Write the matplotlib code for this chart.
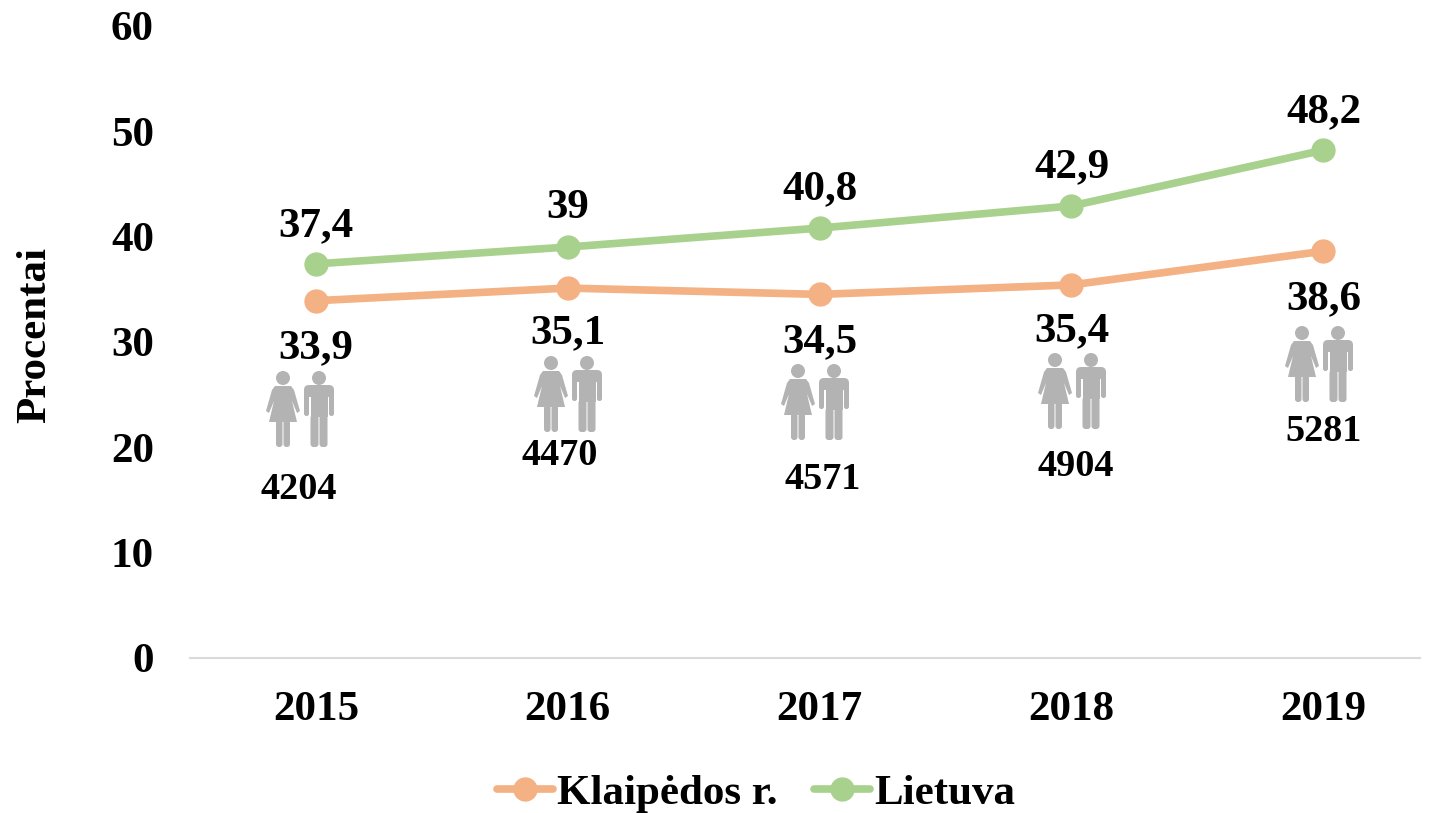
import matplotlib
matplotlib.use("Agg")
import matplotlib.pyplot as plt
from matplotlib.patches import Circle, Polygon, FancyBboxPatch

years = ["2015", "2016", "2017", "2018", "2019"]
klaipeda = [33.9, 35.1, 34.5, 35.4, 38.6]
lietuva = [37.4, 39, 40.8, 42.9, 48.2]
klaipeda_labels = ["33,9", "35,1", "34,5", "35,4", "38,6"]
lietuva_labels = ["37,4", "39", "40,8", "42,9", "48,2"]
counts = ["4204", "4470", "4571", "4904", "5281"]
count_pos_px = [(299, 489), (560, 455), (823, 479), (1076, 466), (1324, 431)]
icon_pos_px = [(301, 371), (569, 356), (816, 364), (1073, 353), (1320, 326)]
kl_px = [(316, 348), (568, 333), (820, 342), (1072, 331), (1324, 299)]
lt_px = [(316, 226), (568, 208), (820, 189), (1072, 167), (1324, 112)]

W, H = 1435, 813
FS = 31
plt.rcParams['font.family'] = ['Liberation Serif', 'DejaVu Serif']
fig = plt.figure(figsize=(W/100, H/100), dpi=100)
x0 = 190
ytop, y0 = 26, 657.5
ax = fig.add_axes([x0/W, 1-y0/H, (W-x0)/W, (y0-ytop)/H])
ax.set_ylim(0, 60)
xs = list(range(5))
step = 251.8
left = (316-x0)/step
ax.set_xlim(-left, (W-x0)/step-left)
cK, cL = "#F4B183", "#A9D18E"
ax.plot(xs, klaipeda, color=cK, lw=5.5, marker='o', ms=16.5, label="Klaipėdos r.", solid_capstyle='round')
ax.plot(xs, lietuva, color=cL, lw=5.5, marker='o', ms=16.5, label="Lietuva", solid_capstyle='round')
for s in ['top', 'right', 'left']:
    ax.spines[s].set_visible(False)
ax.spines['bottom'].set_color('#D9D9D9')
ax.spines['bottom'].set_linewidth(1.5)
ax.spines['bottom'].set_bounds(-left, (1420-x0)/step-left)
ax.set_xticks(xs, years)
ax.set_yticks(range(0, 61, 10))
ax.tick_params(length=0)
for t in ax.get_xticklabels() + ax.get_yticklabels():
    t.set_fontsize(FS); t.set_fontweight('bold')
ax.tick_params(axis='x', pad=24)
ax.tick_params(axis='y', pad=26)

def px(x, y):
    return x/W, 1-y/H
fig.text(*px(35, 335), "Procentai", rotation=90, ha='center', va='center', fontsize=FS, fontweight='bold')
for (a, b), s in zip(lt_px, lietuva_labels):
    fig.text(*px(a, b), s, ha='center', va='center', fontsize=FS, fontweight='bold')
for (a, b), s in zip(kl_px, klaipeda_labels):
    fig.text(*px(a, b), s, ha='center', va='center', fontsize=FS, fontweight='bold')
for (a, b), s in zip(count_pos_px, counts):
    fig.text(*px(a, b), s, ha='center', va='center', fontsize=27.5, fontweight='bold')

grey = "#B2B3B2"
ov = fig.add_axes([0, 0, 1, 1]); ov.set_xlim(0, W); ov.set_ylim(H, 0); ov.axis('off'); ov.patch.set_alpha(0)
def rbox(x, y, w, h, r):
    ov.add_patch(FancyBboxPatch((x, y), w, h, boxstyle=f"round,pad=0,rounding_size={r}", color=grey, lw=0))
def icon(cx, top):
    wx = cx-18
    ov.add_patch(Circle((wx, top+7), 7, color=grey, lw=0))
    ov.add_patch(Polygon([(wx-8, top+15), (wx+8, top+15), (wx+11, top+19), (wx+17, top+40), (wx+14, top+42),
                          (wx+9, top+30), (wx+14, top+51), (wx-14, top+51), (wx-9, top+30),
                          (wx-14, top+42), (wx-17, top+40), (wx-11, top+19)], color=grey, lw=0))
    rbox(wx-7, top+49, 6.5, 27, 3)
    rbox(wx+0.5, top+49, 6.5, 27, 3)
    mx = cx+18
    ov.add_patch(Circle((mx, top+7), 7, color=grey, lw=0))
    rbox(mx-15, top+14, 30, 12, 5)
    rbox(mx-15, top+20, 5, 25, 2.4)
    rbox(mx+10, top+20, 5, 25, 2.4)
    ov.add_patch(Polygon([(mx-8.5, top+16), (mx+8.5, top+16), (mx+8.5, top+46), (mx-8.5, top+46)], color=grey, lw=0))
    rbox(mx-8.5, top+44, 8, 32, 3)
    rbox(mx+0.5, top+44, 8, 32, 3)
for cx, top in icon_pos_px:
    icon(cx, top)

leg = ax.legend(loc='lower center', bbox_to_anchor=((756-x0)/(W-x0), -0.308), ncol=2, frameon=False,
                prop={'size': FS, 'weight': 'bold'}, handlelength=1.3, columnspacing=0.85, handletextpad=0.1)
fig.savefig("out.png", dpi=100)
